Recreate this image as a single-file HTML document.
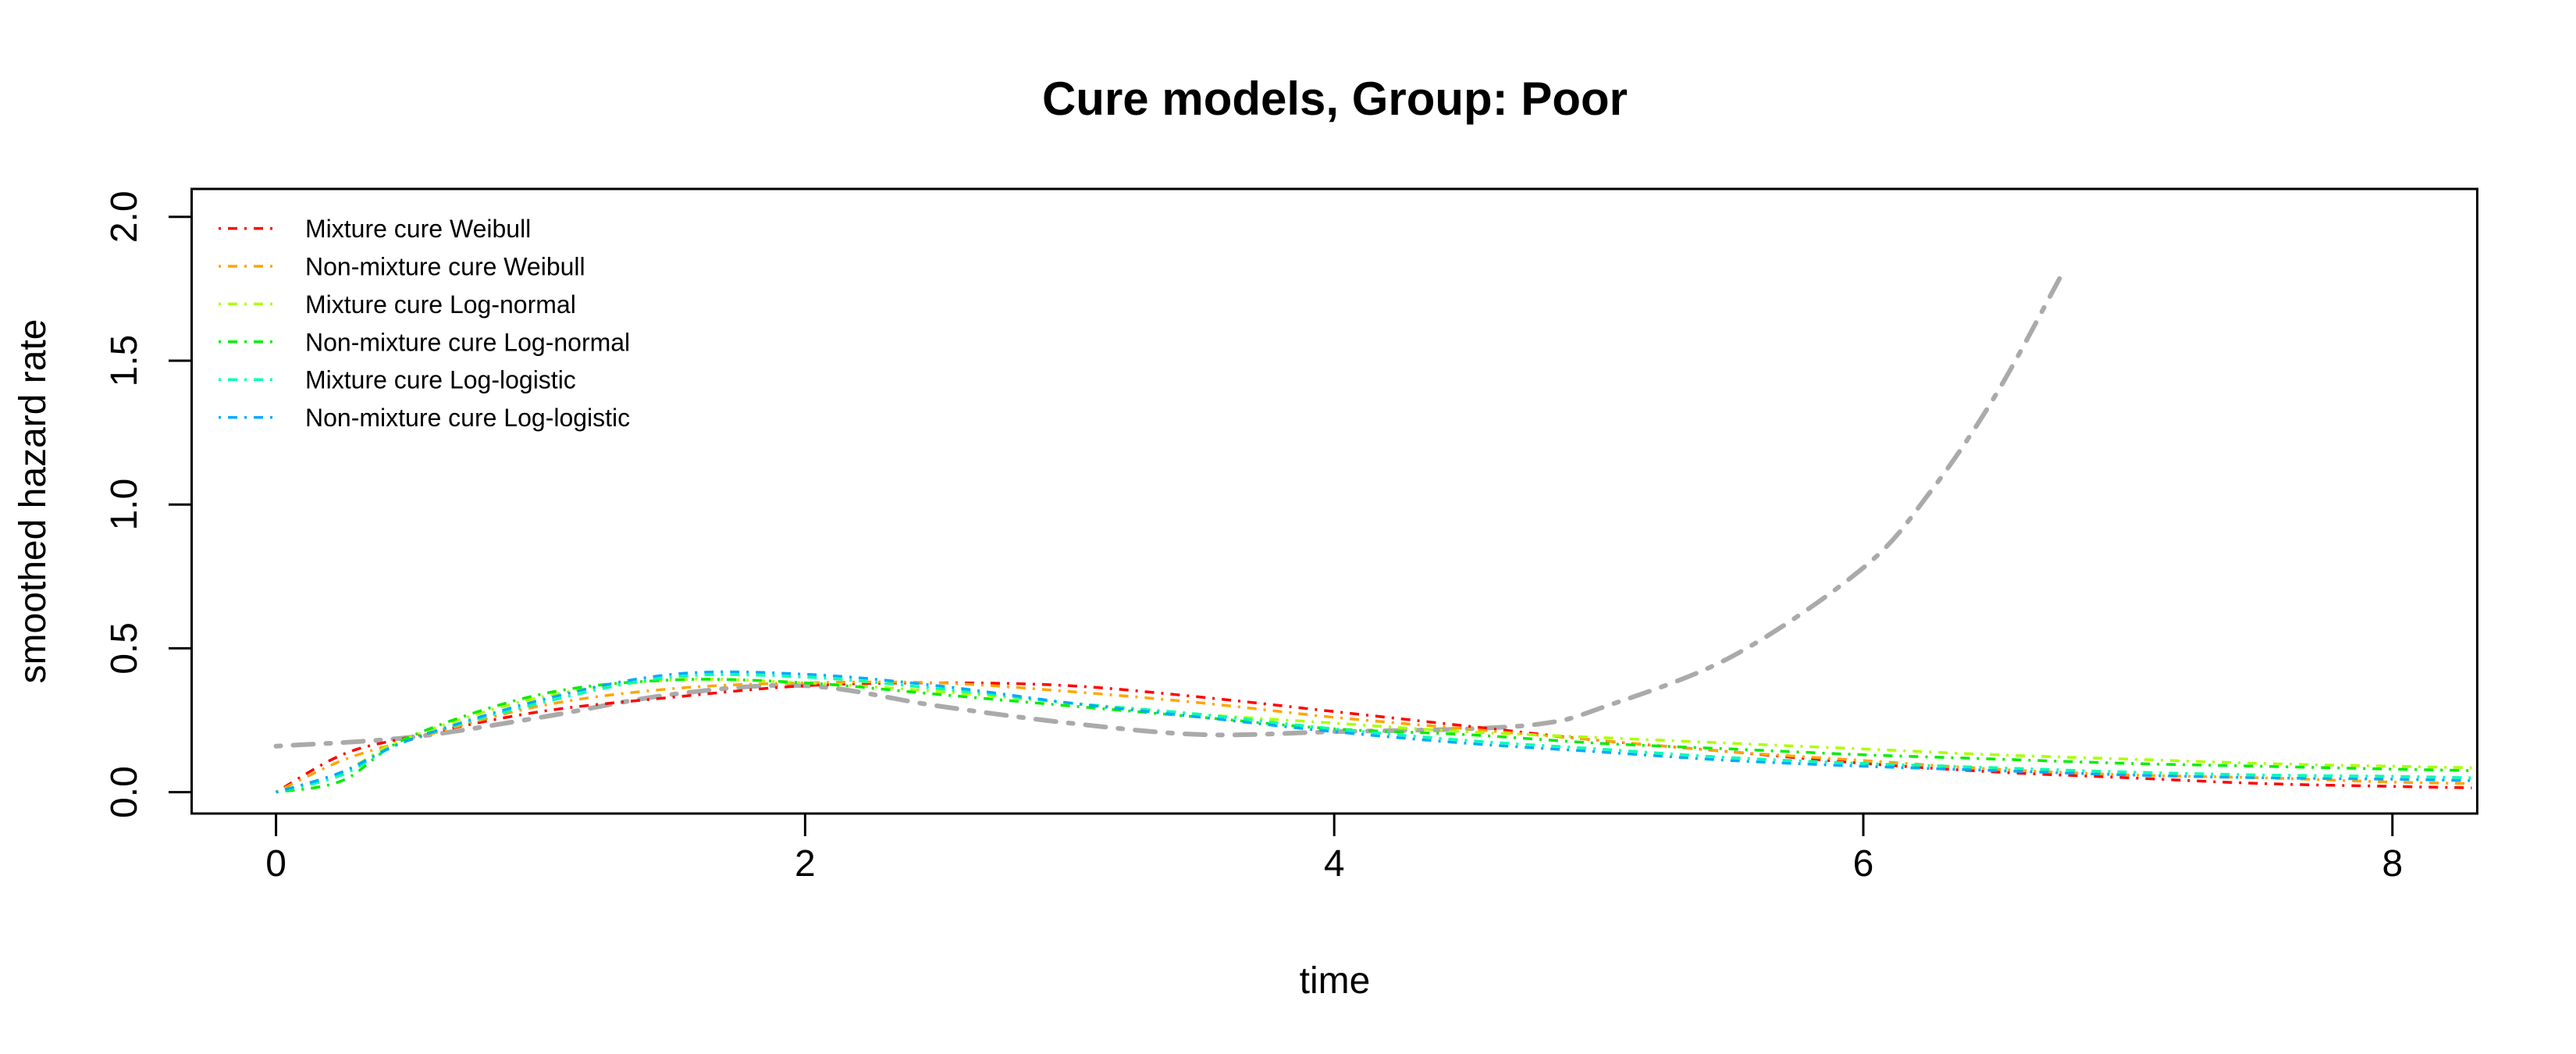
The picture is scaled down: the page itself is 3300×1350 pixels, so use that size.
<!DOCTYPE html>
<html><head><meta charset="utf-8"><style>
html,body{margin:0;padding:0;background:#fff;}
svg{display:block;font-family:"Liberation Sans",Arial,sans-serif;}
</style></head><body>
<svg id="chart" width="3300" height="1350" viewBox="0 0 3300 1350">
<defs><clipPath id="plotclip"><rect x="247" y="243" width="2926" height="798"/></clipPath></defs>
<text x="1710" y="147" font-size="60" font-weight="bold" text-anchor="middle">Cure models, Group: Poor</text>
<text x="1710" y="1272" font-size="48" text-anchor="middle">time</text>
<text transform="translate(58,642) rotate(-90)" font-size="48" text-anchor="middle">smoothed hazard rate</text>
<g id="axes"></g>
<g id="series" clip-path="url(#plotclip)"></g>
<rect x="245.5" y="242" width="2928" height="800" fill="none" stroke="#000" stroke-width="3"/>
<g id="legend"></g>
</svg>
<script>
const xTicks=[0,2,4,6,8];
const yTicks=[0,0.5,1.0,1.5,2.0];
const yTickLabels=["0.0","0.5","1.0","1.5","2.0"];
const seriesNames=["Mixture cure Weibull","Non-mixture cure Weibull","Mixture cure Log-normal","Non-mixture cure Log-normal","Mixture cure Log-logistic","Non-mixture cure Log-logistic"];
const seriesColors=["#FF0000","#FFA500","#AAFF00","#00EE00","#00FFB0","#00AAFF"];
const times=[0,0.25,0.5,1,1.5,2,2.5,3,3.5,4,4.5,5,5.5,6,6.5,7,7.5,8,8.3];
const redVals=[0,0.13,0.19,0.28,0.33,0.37,0.38,0.37,0.33,0.28,0.23,0.18,0.14,0.10,0.07,0.05,0.03,0.02,0.015];
const orangeVals=[0,0.11,0.18,0.30,0.36,0.38,0.38,0.35,0.31,0.26,0.22,0.18,0.14,0.11,0.08,0.06,0.05,0.035,0.03];
const ygreenVals=[0,0.07,0.19,0.33,0.39,0.38,0.35,0.31,0.27,0.24,0.21,0.19,0.17,0.15,0.13,0.115,0.10,0.09,0.085];
const greenVals=[0,0.04,0.19,0.34,0.39,0.38,0.34,0.30,0.26,0.22,0.20,0.17,0.15,0.13,0.115,0.10,0.09,0.08,0.075];
const cyanVals=[0,0.06,0.18,0.31,0.40,0.40,0.36,0.31,0.27,0.22,0.18,0.15,0.12,0.10,0.085,0.07,0.06,0.055,0.05];
const blueVals=[0,0.07,0.18,0.32,0.41,0.41,0.37,0.31,0.26,0.21,0.17,0.14,0.11,0.09,0.075,0.06,0.05,0.045,0.04];
const obsTimes=[0,0.5,1,1.5,2,2.5,3,3.5,4,4.5,4.8,5,5.5,6,6.25,6.5,6.75];
const obsVals=[0.16,0.19,0.26,0.34,0.37,0.30,0.24,0.20,0.21,0.22,0.24,0.29,0.47,0.78,1.04,1.38,1.80];

const NS="http://www.w3.org/2000/svg";
function X(t){return 353.6+338.9*t;}
function Y(v){return 1014.6-368.4*v;}
function mk(tag,attrs,parent){const e=document.createElementNS(NS,tag);for(const k in attrs)e.setAttribute(k,attrs[k]);parent.appendChild(e);return e;}
function smoothPath(ts,vs){
  const p=ts.map((t,i)=>[X(t),Y(vs[i])]);
  let d="M"+p[0][0].toFixed(1)+","+p[0][1].toFixed(1);
  for(let i=0;i<p.length-1;i++){
    const p0=p[i-1]||p[i],p1=p[i],p2=p[i+1],p3=p[i+2]||p2;
    const c1=[p1[0]+(p2[0]-p0[0])/6,p1[1]+(p2[1]-p0[1])/6];
    const c2=[p2[0]-(p3[0]-p1[0])/6,p2[1]-(p3[1]-p1[1])/6];
    d+=" C"+c1[0].toFixed(1)+","+c1[1].toFixed(1)+" "+c2[0].toFixed(1)+","+c2[1].toFixed(1)+" "+p2[0].toFixed(1)+","+p2[1].toFixed(1);
  }
  return d;
}
const axes=document.getElementById('axes');
xTicks.forEach(t=>{
  const l=mk('line',{x1:X(t),x2:X(t),y1:1042,y2:1071,stroke:'#000','stroke-width':3},axes);
  
  
  const tx=mk('text',{x:X(t),y:1122,'font-size':48,'text-anchor':'middle'},axes);
  tx.textContent=String(t);
  
  
});
yTicks.forEach((v,i)=>{
  const l=mk('line',{x1:216,x2:246,y1:Y(v),y2:Y(v),stroke:'#000','stroke-width':3},axes);
  
  
  const tx=mk('text',{transform:'translate(175,'+Y(v)+') rotate(-90)','font-size':48,'text-anchor':'middle'},axes);
  tx.textContent=yTickLabels[i];
  
  
});
const sg=document.getElementById('series');
const allVals=[redVals,orangeVals,ygreenVals,greenVals,cyanVals,blueVals];
const obs=mk('path',{d:smoothPath(obsTimes,obsVals),fill:'none',stroke:'#AAAAAA','stroke-width':6,'stroke-dasharray':'6 16 26 16','stroke-linecap':'round'},sg);


allVals.forEach((vals,i)=>{
  const p=mk('path',{d:smoothPath(times,vals),fill:'none',stroke:seriesColors[i],'stroke-width':3.5,'stroke-dasharray':'3 9 12 9'},sg);
  
  
});
const lg=document.getElementById('legend');
seriesNames.forEach((n,i)=>{
  const y=292.6+48.4*i;
  const l=mk('line',{x1:280,x2:354,y1:y,y2:y,stroke:seriesColors[i],'stroke-width':3.5,'stroke-dasharray':'3 9 12 9'},lg);
  
  
  const t=mk('text',{x:391,y:y+11.5,'font-size':32},lg);
  t.textContent=n;
  
  
});
</script>
</body></html>
